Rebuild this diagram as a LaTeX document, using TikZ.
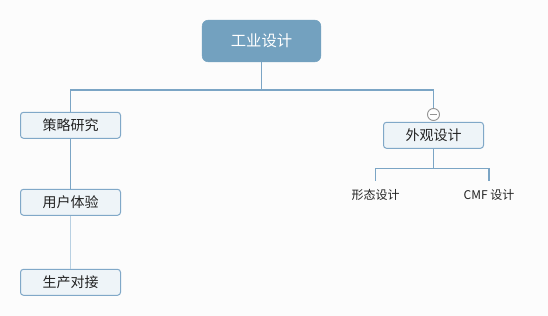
\documentclass[tikz,border=0pt]{standalone}
\usepackage{fontspec}
\setmainfont{Noto Sans CJK SC}
\definecolor{bgc}{HTML}{FCFCFC}
\definecolor{rootfill}{HTML}{73A1BF}
\definecolor{boxfill}{HTML}{EEF4F8}
\definecolor{boxline}{HTML}{80A8C8}
\definecolor{conn}{HTML}{7BA5C5}
\definecolor{connlight}{HTML}{B8D0E2}
\definecolor{txt}{HTML}{222222}
\begin{document}
\begin{tikzpicture}[x=0.75pt,y=-0.75pt,
  rootbox/.style={draw=rootfill,fill=rootfill,rounded corners=4.5pt,minimum width=89pt,minimum height=31.25pt,inner sep=0pt,text=white,font=\fontsize{11.5pt}{13pt}\selectfont},
  topicbox/.style={draw=boxline,line width=0.75pt,fill=boxfill,rounded corners=2.25pt,minimum width=75pt,minimum height=19.5pt,inner sep=0pt,text=txt,font=\fontsize{10.5pt}{12pt}\selectfont},
  leaf/.style={inner sep=0pt,text=txt,font=\fontsize{9pt}{10pt}\selectfont},
  link/.style={draw=conn,line width=0.8pt},
  linklight/.style={draw=connlight,line width=0.8pt}]
\fill[bgc] (0,0) rectangle (548,316);
\useasboundingbox (0,0) rectangle (548,316);
\node[rootbox] (root) at (261.5,41) {工业设计};
\node[topicbox] (s1) at (70.5,125.3) {策略研究};
\node[topicbox] (s2) at (70.5,202.3) {用户体验};
\node[topicbox] (s3) at (70.5,282.3) {生产对接};
\node[topicbox] (w) at (433.5,135.3) {外观设计};
\node[leaf] (f1) at (375.5,194.5) {形态设计};
\node[leaf] (f2) at (489,194.5) {CMF 设计};
\coordinate (hub) at (261.5,90);
\coordinate (wl) at (433.5,90);
\coordinate (wh) at (433.5,168.3);
\coordinate (fl) at (375.5,168.3);
\coordinate (fr) at (489,168.3);
\node[circle,draw=gray!85,fill=white,line width=0.7pt,minimum size=9pt,inner sep=0pt] (col) at (433.5,114.5) {};
\draw[gray!85,line width=0.7pt] ([xshift=-2.7pt]col.center) -- ([xshift=2.7pt]col.center);
\draw[link] (root.south) -- (hub);
\draw[link] (s1.north) |- (hub) -- (wl) -- (col.north);
\draw[link,line width=1.1pt] (s1.south) -- (s2.north);
\draw[linklight,line width=1.1pt] (s2.south) -- (s3.north);
\draw[link] (w.south) -- (wh);
\draw[link] (fl) -- (fr);
\draw[link] (fl) -- ([yshift=6pt]f1.north);
\draw[link] (fr) -- ([yshift=6pt]f2.north);
\end{tikzpicture}
\end{document}
